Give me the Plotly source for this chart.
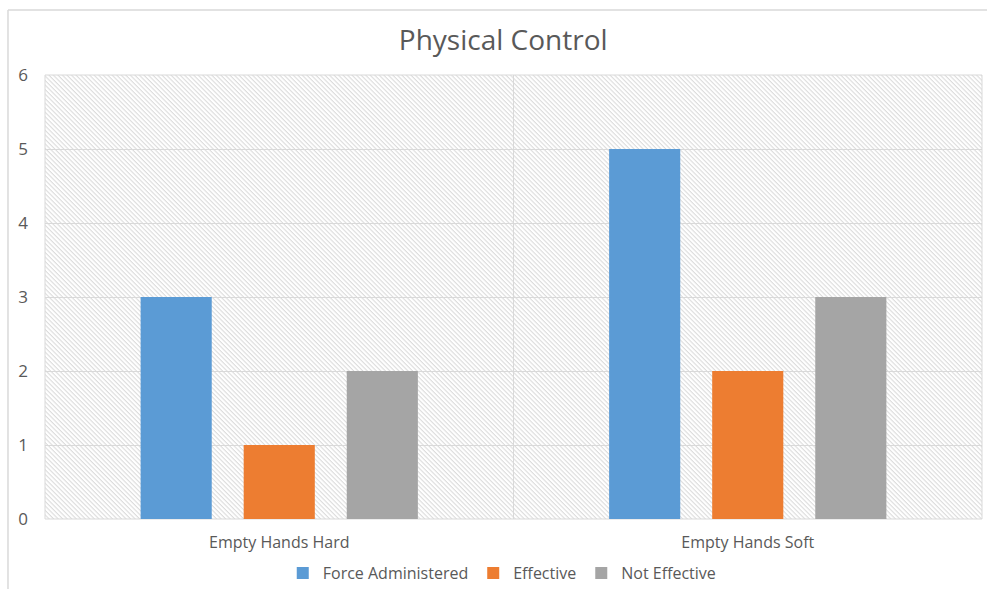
import base64
import plotly.graph_objects as go

# Chart data
categories = ["Empty Hands Hard", "Empty Hands Soft"]
force_administered = [3, 5]
effective = [1, 2]
not_effective = [2, 3]
y_ticks = [0, 1, 2, 3, 4, 5, 6]

FONT = "Open Sans"
TEXT = "#595959"
GRID = "#d9d9d9"

# Diagonal-hatch texture for the plot background
hatch_svg = (
    '<svg xmlns="http://www.w3.org/2000/svg" width="937" height="444" '
    'viewBox="0 0 937 444" preserveAspectRatio="none">'
    '<defs><pattern id="h" width="3.2" height="3.2" patternUnits="userSpaceOnUse" '
    'patternTransform="rotate(45)">'
    '<rect width="3.2" height="3.2" fill="#ffffff"/>'
    '<rect width="3.2" height="1.1" fill="#dcdcdc"/>'
    '</pattern></defs>'
    '<rect width="937" height="444" fill="url(#h)"/></svg>'
)
hatch_uri = "data:image/svg+xml;base64," + base64.b64encode(hatch_svg.encode()).decode()

fig = go.Figure()
fig.add_trace(go.Bar(name="Force Administered", x=categories, y=force_administered,
                     marker=dict(color="#5b9bd5", line_width=0)))
fig.add_trace(go.Bar(name="Effective", x=categories, y=effective,
                     marker=dict(color="#ed7d31", line_width=0)))
fig.add_trace(go.Bar(name="Not Effective", x=categories, y=not_effective,
                     marker=dict(color="#a5a5a5", line_width=0)))

fig.update_layout(
    width=987, height=589,
    margin=dict(l=45, r=5, t=75, b=70, autoexpand=False),
    paper_bgcolor="white",
    plot_bgcolor="white",
    barmode="group",
    bargap=0.34,
    bargroupgap=0.31,
    font=dict(family=FONT, color=TEXT, size=16),
    title=dict(text="Physical Control", xref="paper", x=0.489, xanchor="center",
               y=0.932, yanchor="middle",
               font=dict(family=FONT, size=28, color=TEXT)),
    legend=dict(orientation="h", x=0.488, xanchor="center", y=-0.122, yanchor="middle",
                font=dict(size=16, color=TEXT), traceorder="normal"),
    images=[dict(source=hatch_uri, xref="paper", yref="paper", x=0, y=1,
                 sizex=1, sizey=1, sizing="stretch", layer="below",
                 xanchor="left", yanchor="top")],
    shapes=[
        # category divider
        dict(type="line", xref="paper", yref="paper", x0=0.5, x1=0.5, y0=0, y1=1,
             line=dict(color=GRID, width=1), layer="below"),
        # plot frame
        dict(type="rect", xref="paper", yref="paper", x0=0, x1=1, y0=0, y1=1,
             line=dict(color=GRID, width=1), layer="below"),
        # outer chart border (top and left edges)
        dict(type="line", xref="paper", yref="paper", x0=-0.0395, x1=1.01, y0=1.1464, y1=1.1464,
             line=dict(color=GRID, width=1.5)),
        dict(type="line", xref="paper", yref="paper", x0=-0.0395, x1=-0.0395, y0=1.1464, y1=-0.2,
             line=dict(color=GRID, width=1.5)),
    ],
)

fig.update_xaxes(showgrid=False, showline=False, zeroline=False, ticks="",
                 tickfont=dict(size=16, color=TEXT), ticklabelstandoff=12)
fig.update_yaxes(range=[0, 6], tickvals=y_ticks, showgrid=True, gridcolor=GRID, gridwidth=1,
                 zeroline=False, showline=False, ticks="",
                 tickfont=dict(size=17, color=TEXT), ticklabelstandoff=16)

fig.write_html("out.html")
